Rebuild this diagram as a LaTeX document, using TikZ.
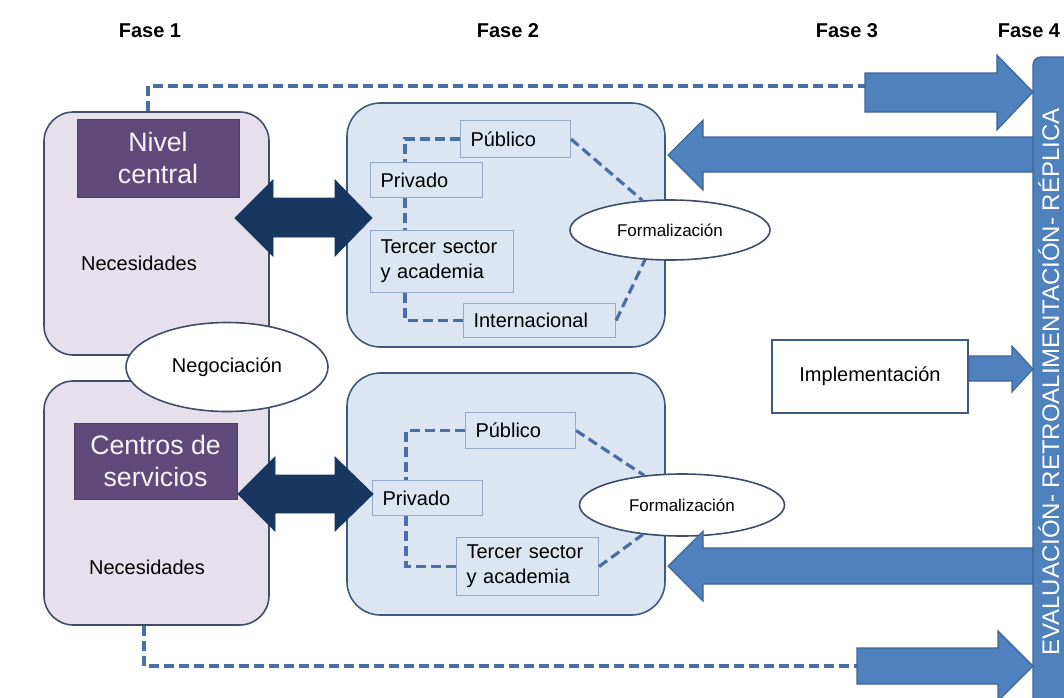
\documentclass[tikz,border=0pt]{standalone}
\usepackage{fontspec}
\setmainfont{Liberation Sans}
\usetikzlibrary{shapes.geometric}
\definecolor{lav}{HTML}{E6E0EC}
\definecolor{lavborder}{HTML}{3F4D68}
\definecolor{purp}{HTML}{5F4A7B}
\definecolor{paleblue}{HTML}{DCE6F2}
\definecolor{boxborder}{HTML}{3D5A80}
\definecolor{innerborder}{HTML}{93AACB}
\definecolor{dashc}{HTML}{4A6FA5}
\definecolor{navy}{HTML}{17375E}
\definecolor{midblue}{HTML}{4F81BD}
\definecolor{midblueborder}{HTML}{3C6494}
\begin{document}
\begin{tikzpicture}[x=0.75pt,y=-0.75pt,
  fase/.style={font=\bfseries\fontsize{15}{18}\selectfont},
  lvbox/.style={draw=lavborder, line width=1.2pt, fill=lav, rounded corners=22pt,
    minimum width=168.75pt, inner sep=0pt},
  f2box/.style={draw=boxborder, line width=1.2pt, fill=paleblue, rounded corners=25pt,
    minimum width=238.5pt, inner sep=0pt},
  purpbox/.style={fill=purp, draw=purp!85!black, line width=0.6pt, text=white!94!purp,
    align=center, font=\fontsize{20}{24}\selectfont, inner sep=0pt},
  member/.style={draw=innerborder, line width=0.8pt, fill=paleblue, align=left,
    inner xsep=7.5pt, inner ysep=0pt, anchor=north west,
    font=\fontsize{15}{18.75}\selectfont},
  txt/.style={font=\fontsize{15}{18}\selectfont},
  oval/.style={ellipse, draw=lavborder, line width=1.2pt, fill=white, inner sep=0pt},
  dashln/.style={draw=dashc, line width=2.4pt, dash pattern=on 7.5pt off 3.75pt},
  navyarrow/.style={fill=navy, draw=navy, line width=0.6pt, line join=miter},
  bluearrow/.style={fill=midblue, draw=midblueborder, line width=0.8pt, line join=miter}
]
\useasboundingbox (0,0) rectangle (1064,697);
\clip (0,0) rectangle (1064,697);
\fill[white] (0,0) rectangle (1064,697);

% phase titles
\node[fase] (f1) at (150,31) {Fase 1};
\node[fase] (f2) at (508,31) {Fase 2};
\node[fase] (f3) at (847,31) {Fase 3};
\node[fase] (f4) at (1029,31) {Fase 4};

% left boxes
\node[lvbox, minimum height=182.25pt] (box1) at (156.5,233.5) {};
\node[lvbox, minimum height=183pt] (box2) at (156.5,503) {};
\node[purpbox, minimum width=121.5pt, minimum height=58.5pt] (purp1) at (158,158) {Nivel\\central};
\node[purpbox, minimum width=122.25pt, minimum height=57pt] (purp2) at (155.5,461) {Centros de\\servicios};
\node[txt] (nec1) at (139,263) {Necesidades};
\node[txt] (nec2) at (147,567) {Necesidades};
\node[oval, minimum width=151.5pt, minimum height=66.75pt, txt] (neg) at (227,367) {Negociación};

% phase 2 boxes
\node[f2box, minimum height=183pt] (g1) at (506,225) {};
\node[f2box, minimum height=181.5pt] (g2) at (506,494) {};

\node[member, text width=67.5pt, minimum height=27.75pt] (pub1) at (460,120) {Público};
\node[member, text width=69pt, minimum height=26.25pt] (priv1) at (370,162) {Privado};
\node[member, text width=92.25pt, minimum height=46.5pt] (ter1) at (370,230) {Tercer sector\\y academia};
\node[member, text width=99pt, minimum height=25.5pt] (int1) at (463,303) {Internacional};

\node[member, text width=67.5pt, minimum height=27pt] (pub2) at (465,412) {Público};
\node[member, text width=67.5pt, minimum height=26.25pt] (priv2) at (372,480) {Privado};
\node[member, text width=91.5pt, minimum height=43.5pt] (ter2) at (456,537) {Tercer sector\\y academia};

\node[oval, minimum width=150pt, minimum height=45pt, font=\fontsize{12.75}{15}\selectfont] (form1) at (670,230) {Formalización};
\node[oval, minimum width=153.75pt, minimum height=46.5pt, font=\fontsize{12.75}{15}\selectfont] (form2) at (682,505) {Formalización};

% dashed links inside phase 2
\coordinate (v1) at (405,0);
\coordinate (v2) at (406,0);
\draw[dashln] (pub1.west) -| (priv1.north -| v1);
\draw[dashln] (priv1.south -| v1) -- (ter1.north -| v1);
\draw[dashln] (ter1.south -| v1) |- (int1.west);
\draw[dashln] (pub1.east) -- (form1.133);
\draw[dashln] (int1.east) -- (form1.230);
\draw[dashln] (pub2.west) -| (priv2.north -| v2);
\draw[dashln] (priv2.south -| v2) |- (ter2.west);
\draw[dashln] (pub2.east) -- (form2.142);
\draw[dashln] (ter2.east) -- (form2.217);

% implementation
\node[draw=boxborder, line width=1.2pt, fill=white, minimum width=147pt, minimum height=54.75pt, txt] (impl) at (870,376.5) {Implementación};

% long dashed lines
\coordinate (tl) at (148,86);
\coordinate (ta) at (866,86);
\coordinate (bl) at (144,666);
\coordinate (ba) at (858,666);
\draw[dashln] (box1.north -| tl) |- (ta);
\draw[dashln] (box2.south -| bl) |- (ba);

% navy double arrows
\draw[navyarrow] (235,218) -- (273,180) -- (273,198) -- (335,198) -- (335,180) -- (372,218)
  -- (335,256) -- (335,237) -- (273,237) -- (273,256) -- cycle;
\draw[navyarrow] (238,494) -- (275,457) -- (275,475) -- (335,475) -- (335,457) -- (373,494)
  -- (335,531) -- (335,513) -- (275,513) -- (275,531) -- cycle;

% blue block arrows
\draw[bluearrow] (865,73) -- (997,73) -- (997,55) -- (1033,92) -- (997,130) -- (997,112) -- (865,112) -- cycle;
\draw[bluearrow] (1040,137) -- (703,137) -- (703,120) -- (668,155) -- (703,190) -- (703,172) -- (1040,172) -- cycle;
\draw[bluearrow] (impl.east |- 0,356) -- (1012,356) -- (1012,346) -- (1033,369) -- (1012,392) -- (1012,381) -- (impl.east |- 0,381) -- cycle;
\draw[bluearrow] (1040,548) -- (703,548) -- (703,531) -- (668,566) -- (703,601) -- (703,584) -- (1040,584) -- cycle;
\draw[bluearrow] (857,648) -- (998,648) -- (998,631) -- (1033,666) -- (998,701) -- (998,684) -- (857,684) -- cycle;

% right bar
\draw[fill=midblue, draw=midblueborder, line width=1pt, rounded corners=6pt] (1033,720) -- (1033,57) -- (1090,57) -- (1090,720) -- cycle;
\node[rotate=90, anchor=base, text=white, font=\fontsize{18}{21}\selectfont, inner sep=0pt] (bar) at (1059,382) {EVALUACIÓN- RETROALIMENTACIÓN- RÉPLICA};
\end{tikzpicture}
\end{document}
